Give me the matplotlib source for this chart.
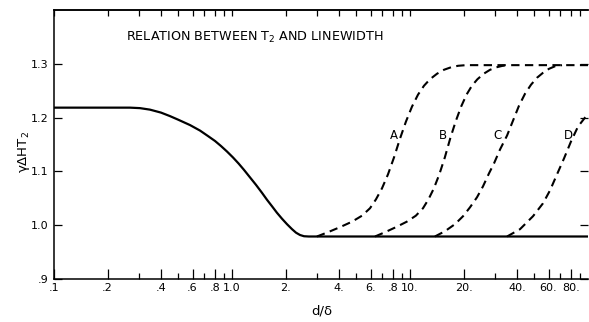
import matplotlib
matplotlib.use("Agg")
import matplotlib.pyplot as plt

# ---- data ----
solid_x = [0.10, 0.267, 0.304, 0.346, 0.399, 0.448, 0.497, 0.581, 0.661, 0.733, 0.803, 0.867,
           0.937, 1.013, 1.088, 1.168, 1.262, 1.364, 1.474, 1.573, 1.678, 1.789, 1.910,
           2.037, 2.174, 2.289, 2.410, 2.538, 2.70, 100.0]
solid_y = [1.2185, 1.2185, 1.2176, 1.2148, 1.2093, 1.2028, 1.1963, 1.1861, 1.1759, 1.1657, 1.1565, 1.1472,
           1.1370, 1.1259, 1.1148, 1.1028, 1.0889, 1.0750, 1.0602, 1.0472, 1.0352, 1.0231, 1.0120,
           1.0019, 0.9926, 0.9861, 0.9818, 0.9795, 0.9790, 0.9790]

a_x = [3.00, 3.46, 4.04, 4.72, 5.37, 5.96, 6.44, 6.96, 7.52, 8.13, 8.79, 9.49, 10.26,
       11.09, 11.99, 12.95, 14.18, 15.52, 16.99, 18.61, 20.63, 100.0]
a_y = [0.979, 0.987, 0.9963, 1.0065, 1.0176, 1.0315, 1.0481, 1.0685, 1.0944, 1.1259, 1.1611, 1.1926, 1.2204,
       1.2426, 1.2593, 1.2713, 1.2815, 1.2889, 1.2935, 1.2963, 1.2975, 1.2975]

b_x = [6.36, 7.24, 8.33, 9.59, 10.78, 11.83, 12.70, 13.62, 14.61, 15.69, 16.82, 18.04, 19.37,
       20.77, 22.28, 23.92, 25.94, 28.18, 30.58, 33.18, 36.46]
b_y = [0.979, 0.987, 0.9963, 1.0065, 1.0176, 1.0315, 1.0481, 1.0685, 1.0944, 1.1259, 1.1611, 1.1926, 1.2204,
       1.2426, 1.2593, 1.2713, 1.2815, 1.2889, 1.2935, 1.2963, 1.2975]

c_x = [13.8, 15.73, 17.89, 19.86, 21.74, 23.79, 25.71, 27.78, 29.64, 32.04, 35.1, 37.91, 40.97,
       44.28, 47.84, 51.70, 55.88, 60.38, 65.26, 71.43]
c_y = [0.979, 0.9889, 1.0019, 1.0167, 1.0333, 1.0519, 1.0722, 1.0963, 1.1148, 1.1407, 1.1667, 1.1944, 1.2222,
       1.2444, 1.2611, 1.2741, 1.2833, 1.2907, 1.2954, 1.2975]

d_x = [35.1, 41.5, 49.1, 55.88, 61.2, 66.95, 73.3, 80.25, 87.86, 96.2, 100.0]
d_y = [0.979, 0.9926, 1.0167, 1.0407, 1.0648, 1.0944, 1.124, 1.1556, 1.1833, 1.200, 1.2056]

curve_labels = ["A", "B", "C", "D"]
label_x = [8.1, 15.3, 31.2, 77.3]
label_y = [1.167, 1.167, 1.167, 1.167]

xmajor = [0.1, 0.2, 0.4, 0.6, 0.8, 1.0, 2, 4, 6, 8, 10, 20, 40, 60, 80]
xmajor_labels = [".1", ".2", ".4", ".6", ".8", "1.0", "2.", "4.", "6.", ".8", "10.", "20.", "40.", "60.", "80."]
xminor = [0.3, 0.5, 0.7, 0.9, 3, 5, 7, 9, 30, 50, 70, 90]
yticks = [0.9, 1.0, 1.1, 1.2, 1.3]
ytick_labels = [".9", "1.0", "1.1", "1.2", "1.3"]

title = "RELATION BETWEEN T$_2$ AND LINEWIDTH"
xlabel = "d/δ"
ylabel = "γΔHT$_2$"

# ---- figure ----
plt.rcParams['font.family'] = ['DejaVu Sans']
plt.rcParams['mathtext.fontset'] = 'dejavusans'
fig = plt.figure(figsize=(5.89, 3.22), dpi=100)
ax = fig.add_axes([54/589, 1-279/322, (588-54)/589, (279-10)/322])

ax.set_xscale('log')
ax.set_xlim(0.1, 100)
ax.set_ylim(0.9, 1.4)

ax.plot(solid_x, solid_y, color='black', lw=1.6, solid_capstyle='butt', solid_joinstyle='round')
for xs, ys in [(a_x, a_y), (b_x, b_y), (c_x, c_y), (d_x, d_y)]:
    ax.plot(xs, ys, color='black', lw=1.5, dashes=(4, 2.6))

for t, x, y in zip(curve_labels, label_x, label_y):
    ax.text(x, y, t, ha='center', va='center', fontsize=8.5)

ax.set_xticks(xmajor)
ax.set_xticklabels(xmajor_labels)
ax.set_xticks(xminor, minor=True)
ax.set_yticks(yticks)
ax.set_yticklabels(ytick_labels)
ax.yaxis.set_minor_locator(matplotlib.ticker.NullLocator())

ax.tick_params(axis='x', which='major', direction='in', length=7.5, width=0.9,
               labelsize=8, pad=3, top=False)
ax.tick_params(axis='x', which='minor', direction='in', length=4.5, width=0.9, top=False,
               labelbottom=False)
ax.tick_params(axis='y', which='major', direction='in', length=6, width=0.9,
               labelsize=8, pad=4, right=True)

sec = ax.secondary_xaxis('top')
sec.set_xticks(xmajor + xminor)
sec.xaxis.set_minor_locator(matplotlib.ticker.NullLocator())
sec.tick_params(direction='in', length=4.5, width=0.9, labeltop=False)
sec.spines['top'].set_linewidth(1.1)

for s in ['left', 'bottom', 'top']:
    ax.spines[s].set_linewidth(1.1)
ax.spines['right'].set_visible(False)

fig.text(255/589, 1-37/322, title, ha='center', va='center', fontsize=9.2)
fig.text(322/589, 1-311/322, xlabel, ha='center', va='center', fontsize=9.5)
fig.text(24/589, 1-152/322, ylabel, ha='center', va='center', fontsize=9.5, rotation=90)

fig.savefig("out.png", dpi=100)
